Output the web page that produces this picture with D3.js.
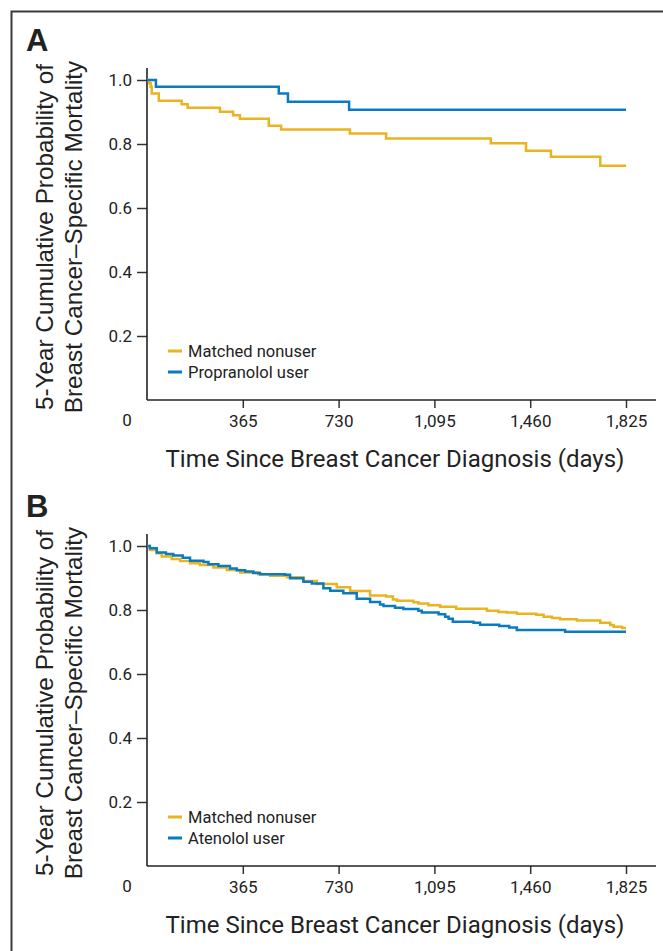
<!DOCTYPE html>
<html lang="en">
<head>
  <meta charset="UTF-8" />
  <title>Breast cancer-specific mortality</title>
  <script src="https://d3js.org/d3.v7.min.js"></script>
  <style>
    body { margin: 0; background: #fff; }
    svg { display: block; }
    .tick text { font-family: Roboto, "Liberation Sans", sans-serif; font-size: 17px; fill: #222; }
    .legend text { font-family: Roboto, "Liberation Sans", sans-serif; font-size: 16.5px; fill: #222; }
    .xtitle { font-family: Roboto, "Liberation Sans", sans-serif; font-size: 24px; fill: #222; }
    .ytitle { font-family: "Liberation Sans", Arial, sans-serif; font-size: 24.3px; fill: #222; }
    .panel-label { font-family: "Liberation Sans", Arial, sans-serif; font-size: 31px; font-weight: bold; fill: #222; }
  </style>
</head>
<body>
  <svg width="663" height="951"></svg>

  <script>
    // tick values
    const xTicks = [365, 730, 1095, 1460, 1825];
    const yTicks = [0.2, 0.4, 0.6, 0.8, 1.0];

    // panel A: [days, probability]
    const nonuserA = [[0,1.0],[8,0.990],[14,0.979],[18,0.958],[45,0.935],[132,0.924],[155,0.913],
      [278,0.901],[328,0.890],[354,0.879],[464,0.857],[511,0.845],[773,0.833],[911,0.817],
      [1310,0.802],[1444,0.779],[1539,0.760],[1727,0.732],[1825,0.732]];
    const propranololA = [[0,1.0],[34,0.979],[502,0.958],[537,0.932],[770,0.907],[1825,0.907]];

    // panel B
    const nonuserB = [[0,1.0],[11,0.9875],[37,0.977],[56,0.967],[94,0.959],[126,0.953],[164,0.946],
      [202,0.941],[253,0.933],[304,0.925],[355,0.917],[424,0.912],[469,0.907],[533,0.902],[596,0.891],
      [647,0.881],[723,0.871],[774,0.859],[850,0.845],[911,0.842],[937,0.833],[952,0.829],[1015,0.824],
      [1034,0.820],[1072,0.815],[1117,0.810],[1178,0.804],[1295,0.798],[1339,0.794],[1371,0.792],
      [1409,0.788],[1483,0.785],[1511,0.779],[1543,0.775],[1574,0.771],[1638,0.767],[1727,0.760],
      [1765,0.753],[1778,0.748],[1810,0.744],[1825,0.744]];
    const atenololB = [[0,1.0],[11,0.993],[37,0.980],[72,0.975],[100,0.970],[136,0.963],[164,0.954],
      [215,0.950],[234,0.943],[272,0.9375],[316,0.930],[342,0.924],[374,0.920],[405,0.916],[431,0.912],
      [526,0.910],[545,0.899],[596,0.888],[628,0.883],[672,0.868],[698,0.860],[748,0.852],[799,0.835],
      [850,0.825],[888,0.817],[901,0.8125],[945,0.807],[977,0.803],[1034,0.798],[1047,0.792],
      [1111,0.787],[1136,0.779],[1149,0.773],[1165,0.763],[1244,0.760],[1269,0.754],[1342,0.750],
      [1380,0.745],[1409,0.7375],[1593,0.732],[1825,0.732]];

    const yellow = "#e9b41e";
    const blue = "#0a7bc2";

    const svg = d3.select("svg");

    // frame (top + left only)
    svg.append("path")
      .attr("d", "M11.5,951 V11.5 H663")
      .attr("fill", "none")
      .attr("stroke", "#3a3a3a")
      .attr("stroke-width", 2);

    const x = d3.scaleLinear().domain([0, 1825]).range([147, 626]);
    const y = d3.scaleLinear().domain([0, 1]).range([400, 80]);

    const line = d3.line()
      .x(d => x(d[0]))
      .y(d => y(d[1]))
      .curve(d3.curveStepAfter);

    function drawPanel(dy, label, series, names) {
      const g = svg.append("g").attr("transform", `translate(0,${dy})`);

      g.append("text").attr("class", "panel-label")
        .attr("x", 26).attr("y", 51).text(label);

      // y title, two lines rotated
      const yt = g.append("text").attr("class", "ytitle")
        .attr("transform", "translate(0,237) rotate(-90)")
        .attr("text-anchor", "middle");
      yt.append("tspan").attr("x", 0).attr("y", 53).text("5-Year Cumulative Probability of");
      yt.append("tspan").attr("x", 0).attr("y", 82).text("Breast Cancer–Specific Mortality");

      // y axis
      const yAxis = g.append("g")
        .attr("transform", "translate(147,0)")
        .call(d3.axisLeft(y).tickValues(yTicks).tickFormat(d3.format(".1f")).tickSize(10).tickPadding(5).tickSizeOuter(0));
      yAxis.select(".domain").remove();
      yAxis.selectAll("line").attr("stroke", "#333").attr("stroke-width", 1.5);

      g.append("line")
        .attr("x1", 147).attr("x2", 147)
        .attr("y1", y(1) - 12).attr("y2", y(0))
        .attr("stroke", "#222").attr("stroke-width", 1.6);

      // x axis
      const xAxis = g.append("g")
        .attr("transform", `translate(0,${y(0)})`)
        .call(d3.axisBottom(x).tickValues(xTicks).tickFormat(d3.format(",")).tickSize(8).tickPadding(7).tickSizeOuter(0));
      xAxis.select(".domain").remove();
      xAxis.selectAll("line").attr("stroke", "#333").attr("stroke-width", 1.5);

      g.append("line")
        .attr("x1", 147).attr("x2", 656)
        .attr("y1", y(0)).attr("y2", y(0))
        .attr("stroke", "#222").attr("stroke-width", 1.6);

      g.append("text")
        .attr("x", 127).attr("y", y(0) + 21)
        .attr("dy", "0.32em")
        .attr("text-anchor", "middle")
        .style("font-family", "Roboto, sans-serif").style("font-size", "17px").style("fill", "#222")
        .text("0");

      g.append("text").attr("class", "xtitle")
        .attr("x", 395).attr("y", y(0) + 67)
        .attr("text-anchor", "middle")
        .text("Time Since Breast Cancer Diagnosis (days)");

      // curves
      const colors = [yellow, blue];
      series.forEach((s, i) => {
        g.append("path")
          .datum(s)
          .attr("fill", "none")
          .attr("stroke", colors[i])
          .attr("stroke-width", 2.5)
          .attr("d", line);
      });

      // legend
      const lg = g.append("g").attr("class", "legend");
      names.forEach((n, i) => {
        const ly = 351 + i * 21;
        lg.append("line")
          .attr("x1", 168).attr("x2", 182)
          .attr("y1", ly).attr("y2", ly)
          .attr("stroke", colors[i]).attr("stroke-width", 3);
        lg.append("text")
          .attr("x", 188).attr("y", ly).attr("dy", "0.35em")
          .text(n);
      });
    }

    drawPanel(0, "A", [nonuserA, propranololA], ["Matched nonuser", "Propranolol user"]);
    drawPanel(466, "B", [nonuserB, atenololB], ["Matched nonuser", "Atenolol user"]);
  </script>
</body>
</html>
